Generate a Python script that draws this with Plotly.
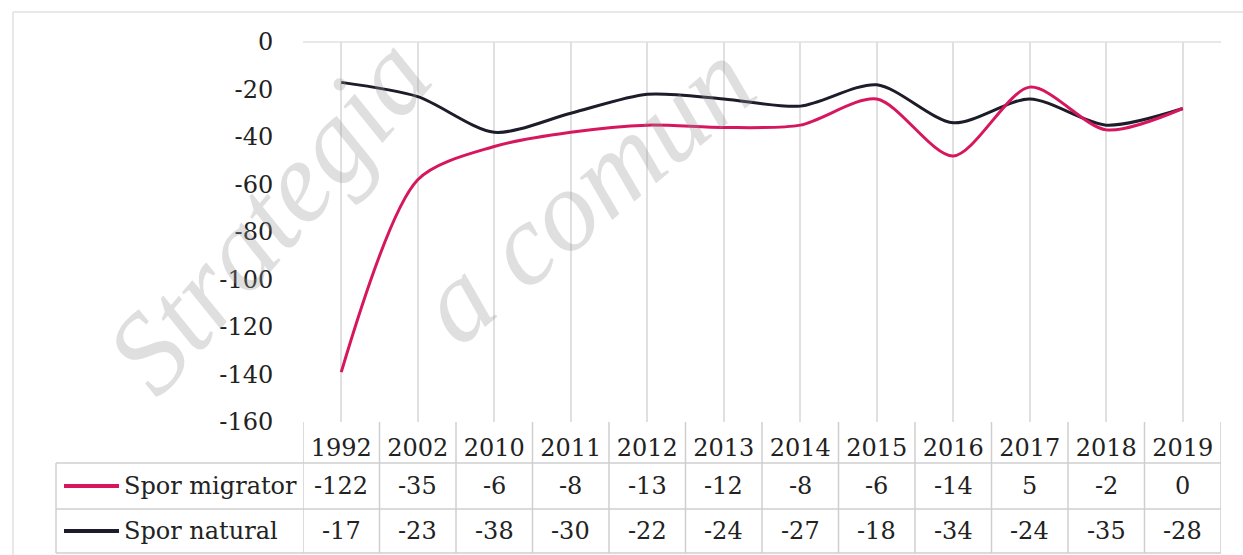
import plotly.graph_objects as go

# ---- data ----
years = ["1992", "2002", "2010", "2011", "2012", "2013", "2014", "2015", "2016", "2017", "2018", "2019"]
spor_migrator = [-122, -35, -6, -8, -13, -12, -8, -6, -14, 5, -2, 0]
spor_natural = [-17, -23, -38, -30, -22, -24, -27, -18, -34, -24, -35, -28]
y_ticks = [0, -20, -40, -60, -80, -100, -120, -140, -160]
series_names = ["Spor migrator", "Spor natural"]
watermark = ["Strategia", "a comun"]

# ---- style / geometry ----
W, H = 1243, 555
ML, MR, MT, MB = 303, 22, 42, 133
PW, PH = W - ML - MR, H - MT - MB
PINK = "#d6175e"
DARK = "#1c1c2a"
GRID = "#e0e0e0"
TXT = "#222222"
FONT = "DejaVu Serif"
FS = 24


def px_x(px):
    return (px - ML) / PW


def px_y(py):
    return (H - MB - py) / PH


fig = go.Figure()
# stacked lines (migrator stacked over natural)
fig.add_trace(go.Scatter(x=years, y=spor_natural, name=series_names[1], mode="lines",
                         stackgroup="one", fill="none",
                         line=dict(color=DARK, width=3, shape="spline", smoothing=0.8),
                         hoverinfo="skip"))
fig.add_trace(go.Scatter(x=years, y=spor_migrator, name=series_names[0], mode="lines",
                         stackgroup="one", fill="none",
                         line=dict(color=PINK, width=3, shape="spline", smoothing=0.8),
                         hoverinfo="skip"))

shapes = []
annotations = []

# table row boundaries (pixels)
row_top, row1, row2, row_bot = 422, 463, 509, 553
line_style = dict(color="#cfcfcf", width=1.5)

for py in (row1, row2, row_bot):
    shapes.append(dict(type="line", xref="paper", yref="paper",
                       x0=px_x(56), x1=1, y0=px_y(py), y1=px_y(py), line=line_style))
shapes.append(dict(type="line", xref="paper", yref="paper",
                   x0=px_x(56), x1=px_x(56), y0=px_y(row1), y1=px_y(row_bot), line=line_style))
n = len(years)
for i in range(n + 1):
    shapes.append(dict(type="line", xref="x", yref="paper",
                       x0=i - 0.5, x1=i - 0.5, y0=px_y(row_top), y1=px_y(row_bot), line=line_style))
shapes.append(dict(type="line", xref="paper", yref="paper", x0=0, x1=1, y0=1, y1=1,
                   line=dict(color=GRID, width=1.5)))
shapes.append(dict(type="line", xref="paper", yref="paper", x0=px_x(13), x1=px_x(W), y0=px_y(12), y1=px_y(12),
                   line=dict(color="#e8e8e8", width=2)))
shapes.append(dict(type="line", xref="paper", yref="paper", x0=px_x(13), x1=px_x(13), y0=px_y(12), y1=px_y(H),
                   line=dict(color="#e8e8e8", width=2)))

row_centers = [(row1 + row2) / 2, (row2 + row_bot) / 2]
for name, col, yc in zip(series_names, [PINK, DARK], row_centers):
    shapes.append(dict(type="line", xref="paper", yref="paper", x0=px_x(64), x1=px_x(119),
                       y0=px_y(yc), y1=px_y(yc), line=dict(color=col, width=4)))
    annotations.append(dict(text=name, xref="paper", yref="paper", x=px_x(122), y=px_y(yc),
                            xanchor="left", yanchor="middle", showarrow=False,
                            font=dict(family=FONT, size=FS, color=TXT)))

# table values
for vals, yc in zip([spor_migrator, spor_natural], row_centers):
    for i, v in enumerate(vals):
        annotations.append(dict(text=str(v), xref="x", yref="paper", x=i, y=px_y(yc),
                                xanchor="center", yanchor="middle", showarrow=False,
                                font=dict(family=FONT, size=FS, color=TXT)))

# watermark (kept inside the canvas)
wm_font = dict(family="Liberation Serif", size=116, color="rgba(150,150,150,0.3)", style="italic")
annotations.append(dict(text=watermark[0], xref="paper", yref="paper", x=px_x(268), y=px_y(215),
                        xanchor="center", yanchor="middle",
                        textangle=-49, showarrow=False, font=wm_font))
annotations.append(dict(text=watermark[1], xref="paper", yref="paper", x=px_x(585), y=px_y(192),
                        xanchor="center", yanchor="middle",
                        textangle=-40, showarrow=False, font=wm_font))

fig.update_layout(
    width=W, height=H,
    margin=dict(l=ML, r=MR, t=MT, b=MB),
    paper_bgcolor="white", plot_bgcolor="white",
    showlegend=False,
    shapes=shapes, annotations=annotations,
    xaxis=dict(type="category", range=[-0.5, n - 0.5], showgrid=True, gridcolor=GRID, gridwidth=1.5,
               showline=False, zeroline=False, ticks="outside", ticklen=4, tickcolor="rgba(0,0,0,0)",
               tickfont=dict(family=FONT, size=FS, color=TXT), fixedrange=True),
    yaxis=dict(range=[-160, 0], tickvals=y_ticks, ticktext=[str(v) for v in y_ticks],
               showgrid=False, zeroline=False, showline=False,
               ticks="outside", ticklen=24, tickcolor="rgba(0,0,0,0)",
               tickfont=dict(family=FONT, size=FS, color=TXT), fixedrange=True),
)

fig.write_html("out.html", config={"displayModeBar": False},
               post_script="document.body.style.margin='0';")
